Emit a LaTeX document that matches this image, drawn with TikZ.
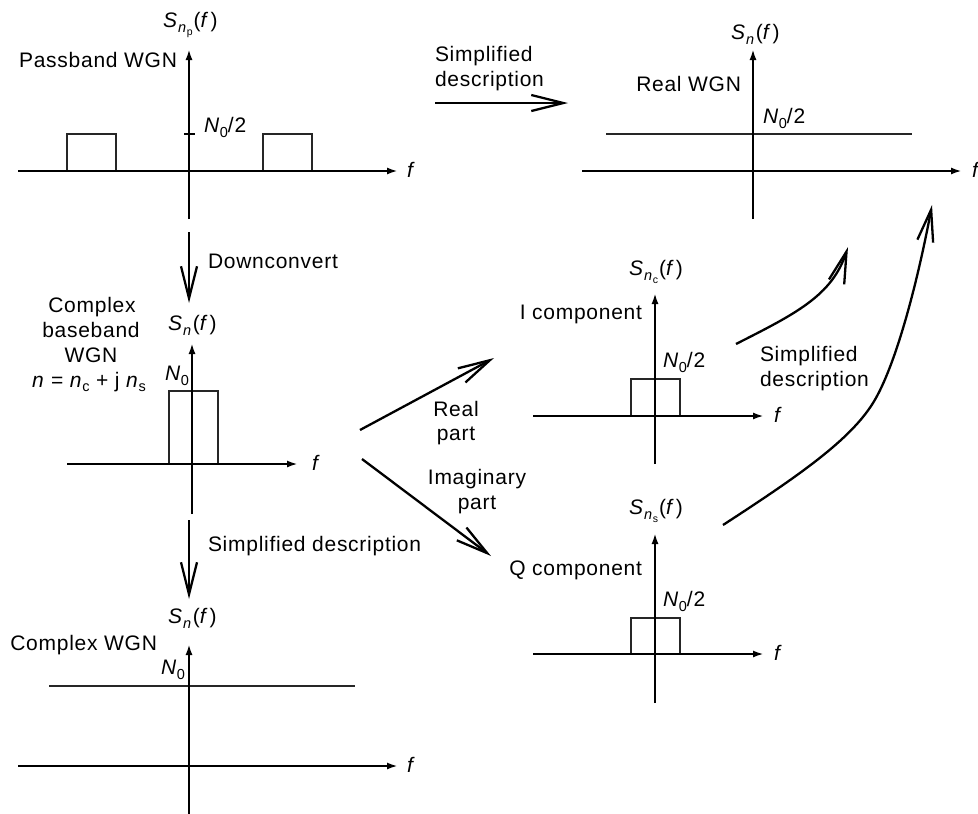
\documentclass[tikz,border=0pt]{standalone}
\usepackage{fontspec}
\setmainfont[LetterSpace=3.5]{Liberation Sans}
\usetikzlibrary{arrows.meta}
\newcommand{\subsz}[1]{{\fontsize{14.5}{14.5}\selectfont #1}}
\newcommand{\ssubsz}[1]{{\fontsize{10.5}{10.5}\selectfont #1}}
\newcommand{\Sfun}[1]{\textit{S}\kern0.5pt\raisebox{-5pt}{\subsz{\textit{n}}#1}\kern1pt(\textit{f}\kern1.5pt)}
\newcommand{\Nnot}{\textit{N}\raisebox{-5pt}{\subsz{0}}}
\tikzset{
  txt/.style={inner sep=0pt, outer sep=0pt, font=\fontsize{21}{25}\selectfont},
  axis/.style={line width=2.3pt, -{Latex[length=11pt,width=7pt]}},
  thinline/.style={line width=1.1pt, black!85},
  proc/.style={line width=2.3pt, -{Straight Barb[length=32pt,width=16pt,line width=2.3pt]}}
}
\begin{document}
\begin{tikzpicture}[x=1pt,y=-1pt]
\useasboundingbox (0,0) rectangle (978,814);
% ---------- Panel A: passband ----------
\draw[thinline] (67,171) -- (67,134) -- (116,134) -- (116,171);
\draw[thinline] (263,171) -- (263,134) -- (312,134) -- (312,171);
\draw[line width=1.4pt] (184,134) -- (195,134);
\draw[axis] (18,171) -- (398,171);
\draw[axis] (189,219) -- (189,49);
\node[txt, anchor=base east] (pbwgn) at (177,67) {Passband WGN};
\node[txt, anchor=base west] (snp) at (163,27) {\Sfun{\raisebox{-3pt}{\ssubsz{p}}}};
\node[txt, anchor=base west] (na) at (204,132) {\Nnot/2};
\node[txt, anchor=base west] (fa) at (407,177) {\textit{f}};
% ---------- Panel B: real WGN ----------
\draw[thinline] (606,134) -- (912,134);
\draw[axis] (582,171) -- (962,171);
\draw[axis] (753,219) -- (753,49);
\node[txt, anchor=base west] (snb) at (731,39) {\Sfun{}};
\node[txt, anchor=base east] (rwgn) at (741,91) {Real WGN};
\node[txt, anchor=base west] (nb) at (763,123) {\Nnot/2};
\node[txt, anchor=base west] (fb) at (972,177) {\textit{f}};
% ---------- Panel C: complex baseband ----------
\draw[thinline] (169,464) -- (169,391) -- (218,391) -- (218,464);
\draw[axis] (67,464) -- (298,464);
\draw[axis] (192,514) -- (192,343);
\node[txt, anchor=base west] (snc) at (168,330) {\Sfun{}};
\node[txt, anchor=base west] (nc0) at (165,380) {\Nnot};
\node[txt, anchor=base west] (fc) at (312,470) {\textit{f}};
\node[txt, anchor=base] (cb1) at (92,312) {Complex};
\node[txt, anchor=base] (cb2) at (91,337) {baseband};
\node[txt, anchor=base] (cb3) at (91,362) {WGN};
\node[txt, anchor=base] (cb4) at (89,387) {\textit{n} = \textit{n}\raisebox{-4pt}{\subsz{c}} + j \textit{n}\raisebox{-4pt}{\subsz{s}}};
% ---------- Panel D: complex WGN ----------
\draw[thinline] (49,686) -- (355,686);
\draw[axis] (18,766) -- (398,766);
\draw[axis] (189,814) -- (189,644);
\node[txt, anchor=base west] (snd) at (168,623) {\Sfun{}};
\node[txt, anchor=base east] (cwgn) at (157,650) {Complex WGN};
\node[txt, anchor=base west] (nd) at (161,674) {\Nnot};
\node[txt, anchor=base west] (fd) at (407,772) {\textit{f}};
% ---------- Panel I ----------
\draw[thinline] (631,416) -- (631,379) -- (680,379) -- (680,416);
\draw[axis] (533,416) -- (764,416);
\draw[axis] (655,464) -- (655,293);
\node[txt, anchor=base west] (sncc) at (629,275) {\Sfun{\raisebox{-3pt}{\ssubsz{c}}}};
\node[txt, anchor=base east] (icomp) at (642,319) {I component};
\node[txt, anchor=base west] (ni) at (663,367) {\Nnot/2};
\node[txt, anchor=base west] (fi) at (774,422) {\textit{f}};
% ---------- Panel Q ----------
\draw[thinline] (631,654) -- (631,618) -- (680,618) -- (680,654);
\draw[axis] (533,654) -- (764,654);
\draw[axis] (655,703) -- (655,533);
\node[txt, anchor=base west] (sns) at (629,514) {\Sfun{\raisebox{-3pt}{\ssubsz{s}}}};
\node[txt, anchor=base east] (qcomp) at (642,575) {Q component};
\node[txt, anchor=base west] (nq) at (663,606) {\Nnot/2};
\node[txt, anchor=base west] (fq) at (774,660) {\textit{f}};
% ---------- process arrows ----------
\coordinate (t1s) at (435,103); \coordinate (t1e) at (568,103);
\coordinate (dcs) at (189,232); \coordinate (dce) at (189,303);
\coordinate (sds) at (189,520); \coordinate (sde) at (189,599);
\coordinate (rps) at (360,430); \coordinate (rpe) at (494,358);
\coordinate (ips) at (362,459); \coordinate (ipe) at (491,556);
\coordinate (c1s) at (736,344); \coordinate (c1e) at (848,247);
\coordinate (c2s) at (723,525); \coordinate (c2m) at (873,403); \coordinate (c2e) at (932,205);
\draw[proc] (t1s) -- (t1e);
\draw[proc] (dcs) -- (dce);
\draw[proc] (sds) -- (sde);
\draw[proc] (rps) -- (rpe);
\draw[proc] (ips) -- (ipe);
\draw[proc] (c1s) .. controls (795,314) and (832,296) .. (c1e);
\draw[proc] (c2s) .. controls (800,475) and (850,440) .. (c2m) .. controls (896,366) and (918,280) .. (c2e);
\node[txt, anchor=base west] (sd1a) at (435,61) {Simplified};
\node[txt, anchor=base west] (sd1b) at (435,86) {description};
\node[txt, anchor=base west] (dc) at (208,268) {Downconvert};
\node[txt, anchor=base west] (sd2) at (208,551) {Simplified description};
\node[txt, anchor=base] (rp1) at (456,416) {Real};
\node[txt, anchor=base] (rp2) at (456,440) {part};
\node[txt, anchor=base] (ip1) at (477,484) {Imaginary};
\node[txt, anchor=base] (ip2) at (477,509) {part};
\node[txt, anchor=base west] (sd3a) at (760,361) {Simplified};
\node[txt, anchor=base west] (sd3b) at (760,386) {description};
\end{tikzpicture}
\end{document}
